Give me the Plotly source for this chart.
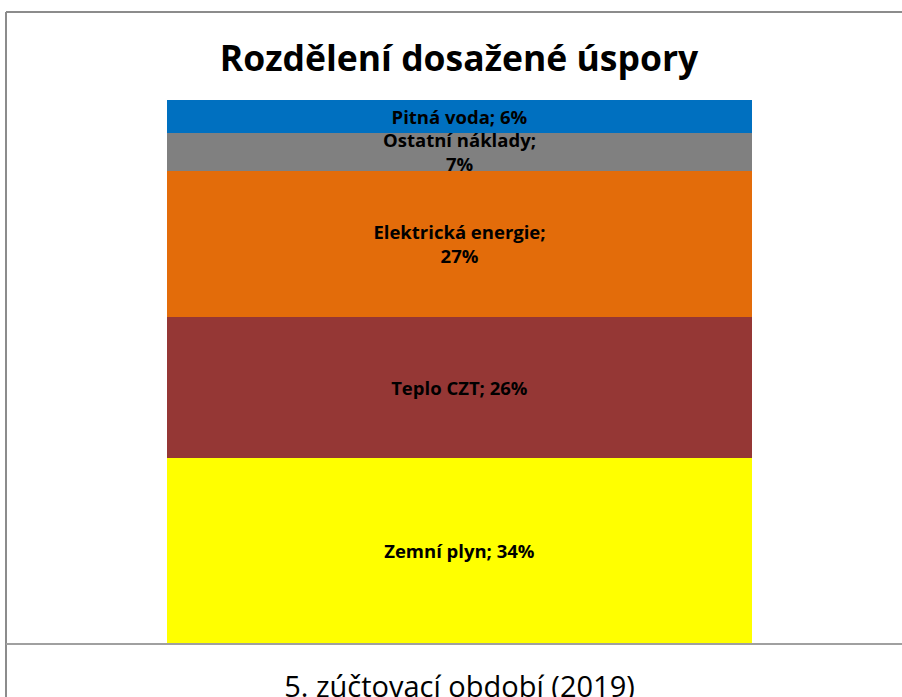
import plotly.graph_objects as go

category = ["5. zúčtovací období (2019)"]
series_names = ["Zemní plyn", "Teplo CZT", "Elektrická energie", "Ostatní náklady", "Pitná voda"]
series_values = [34, 26, 27, 7, 6]
label_texts = ["Zemní plyn; 34%", "Teplo CZT; 26%", "Elektrická energie;<br>27%",
               "Ostatní náklady;<br>7%", "Pitná voda; 6%"]
colors = ["#FFFF00", "#953735", "#E36C0A", "#808080", "#0070C0"]

W, H = 902, 697
ML, MR, MT, MB = 0, 0, 100, 697 - 643
FONT = "Open Sans"

fig = go.Figure()
for name, val, txt, col in zip(series_names, series_values, label_texts, colors):
    fig.add_trace(go.Bar(
        x=category, y=[val], name=name, width=1,
        marker=dict(color=col, line=dict(width=0)),
        text=[txt], texttemplate="%{text}", textposition="inside",
        insidetextanchor="middle", textangle=0, constraintext="none",
        textfont=dict(family=FONT, size=18.5, color="black", weight="bold"),
        hoverinfo="skip",
    ))

plot_w = W - ML - MR
plot_h = H - MT - MB
bar_center, bar_px = 459.5, 585.0
x_left = -(bar_center - ML) / bar_px
x_right = (ML + plot_w - bar_center) / bar_px

def px_x(p):
    return (p - ML) / plot_w

def px_y(p):
    return (H - MB - p) / plot_h

border_col = "#8C8C8C"
shapes = [
    dict(type="line", xref="paper", yref="paper", x0=px_x(6), x1=px_x(910),
         y0=px_y(12), y1=px_y(12), line=dict(color=border_col, width=2)),
    dict(type="line", xref="paper", yref="paper", x0=px_x(6), x1=px_x(6),
         y0=px_y(12), y1=px_y(720), line=dict(color=border_col, width=2)),
    dict(type="line", xref="paper", yref="paper", x0=px_x(6), x1=px_x(910),
         y0=px_y(644), y1=px_y(644), line=dict(color="#A0A0A0", width=2)),
]

fig.update_layout(
    width=W, height=H,
    margin=dict(l=ML, r=MR, t=MT, b=MB, autoexpand=False),
    barmode="stack",
    showlegend=False,
    paper_bgcolor="white", plot_bgcolor="white",
    title=dict(text="<b>Rozdělení dosažené úspory</b>", x=459 / W, xanchor="center",
               y=1 - 59 / H, yanchor="middle",
               font=dict(family=FONT, size=35.5, color="black")),
    uniformtext=dict(minsize=18.5, mode="show"),
    shapes=shapes,
    xaxis=dict(range=[x_left, x_right], showgrid=False, zeroline=False, showline=False,
               ticks="", ticklabelstandoff=24, automargin=False,
               tickfont=dict(family=FONT, size=29, color="black"), fixedrange=True),
    yaxis=dict(range=[0, 100], visible=False, fixedrange=True, automargin=False),
)

fig.write_html(
    "out.html",
    config={"displayModeBar": False},
    post_script="document.body.style.margin='0';document.documentElement.style.overflow='hidden';",
)
